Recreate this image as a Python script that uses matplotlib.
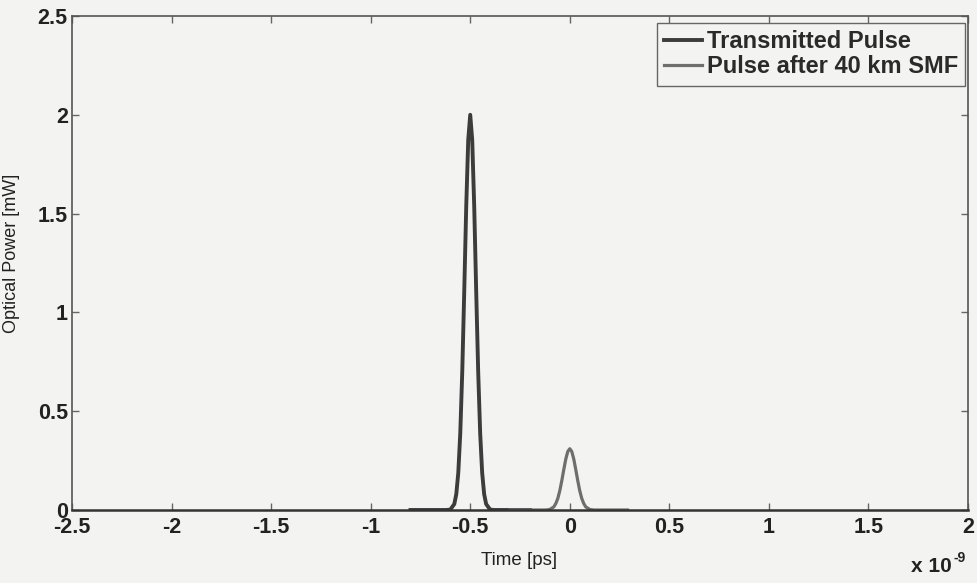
import matplotlib
matplotlib.use("Agg")
import matplotlib.pyplot as plt

# ---- data (time in units of 1e-9 s, power in mW) ----
t_tx = [-0.80, -0.62, -0.60, -0.58, -0.57, -0.56, -0.55, -0.54, -0.53, -0.52, -0.51,
        -0.50, -0.49, -0.48, -0.47, -0.46, -0.45, -0.44, -0.43, -0.42, -0.40, -0.38, -0.20]
p_tx = [0.0, 0.0, 0.002, 0.030, 0.080, 0.188, 0.388, 0.700, 1.108, 1.538, 1.873,
        2.0, 1.873, 1.538, 1.108, 0.700, 0.388, 0.188, 0.080, 0.030, 0.002, 0.0, 0.0]

t_rx = [-0.30, -0.12, -0.10, -0.08, -0.07, -0.06, -0.05, -0.04, -0.03, -0.02, -0.01,
        0.00, 0.01, 0.02, 0.03, 0.04, 0.05, 0.06, 0.07, 0.08, 0.10, 0.12, 0.29]
p_rx = [0.0, 0.0, 0.003, 0.016, 0.033, 0.059, 0.098, 0.149, 0.205, 0.258, 0.296,
        0.310, 0.296, 0.258, 0.205, 0.149, 0.098, 0.059, 0.033, 0.016, 0.003, 0.0, 0.0]

labels = ["Transmitted Pulse", "Pulse after 40 km SMF"]
xticks = [-2.5, -2, -1.5, -1, -0.5, 0, 0.5, 1, 1.5, 2]
xticklabels = ["-2.5", "-2", "-1.5", "-1", "-0.5", "0", "0.5", "1", "1.5", "2"]
yticks = [0, 0.5, 1, 1.5, 2, 2.5]
yticklabels = ["0", "0.5", "1", "1.5", "2", "2.5"]

plt.rcParams['font.family'] = ['Liberation Sans', 'DejaVu Sans']

bg = "#f3f3f1"
fig = plt.figure(figsize=(9.77, 5.83), dpi=100, facecolor=bg)
ax = fig.add_axes([72/977, 1-510/583, 896/977, 494/583], facecolor=bg)

ax.plot(t_tx, p_tx, color="#3c3c3c", lw=2.8, label=labels[0])
ax.plot(t_rx, p_rx, color="#6e6e6e", lw=2.3, label=labels[1])

ax.set_xlim(-2.5, 2)
ax.set_ylim(0, 2.5)
ax.set_xticks(xticks)
ax.set_xticklabels(xticklabels)
ax.set_yticks(yticks)
ax.set_yticklabels(yticklabels)

for s in ax.spines.values():
    s.set_color("#555555")
    s.set_linewidth(1.2)
ax.spines['bottom'].set_color("#333333")
ax.spines['bottom'].set_linewidth(1.8)

ax.tick_params(direction='in', top=True, right=True, length=5, width=1,
               color="#666666", labelsize=15.5, labelcolor="#222222", pad=5)
for lab in ax.get_xticklabels() + ax.get_yticklabels():
    lab.set_fontweight('bold')
ax.tick_params(axis='y', pad=3)

ax.set_xlabel("Time [ps]", fontsize=13.5, color="#222222")
ax.xaxis.set_label_coords(0.499, -0.085)
ax.set_ylabel("Optical Power [mW]", fontsize=13, color="#222222")
ax.yaxis.set_label_coords(-0.058, 0.52)

ax.text(0.982, -0.095, "x 10", transform=ax.transAxes, ha='right', va='top',
        fontsize=15, fontweight='bold', color="#222222")
ax.text(0.984, -0.083, "-9", transform=ax.transAxes, ha='left', va='top',
        fontsize=10, fontweight='bold', color="#222222")

leg = ax.legend(loc='upper right', bbox_to_anchor=(965/977, 1-23/583),
                bbox_transform=fig.transFigure, borderaxespad=0,
                prop={'weight': 'bold', 'size': 17}, handlelength=1.6,
                handletextpad=0.2, labelspacing=0.1, borderpad=0.3,
                fancybox=False, framealpha=1, facecolor=bg, edgecolor="#666666")
leg.get_frame().set_linewidth(1.0)
for txt in leg.get_texts():
    txt.set_color("#2a2a2a")

fig.savefig("out.png", dpi=100, facecolor=bg)
